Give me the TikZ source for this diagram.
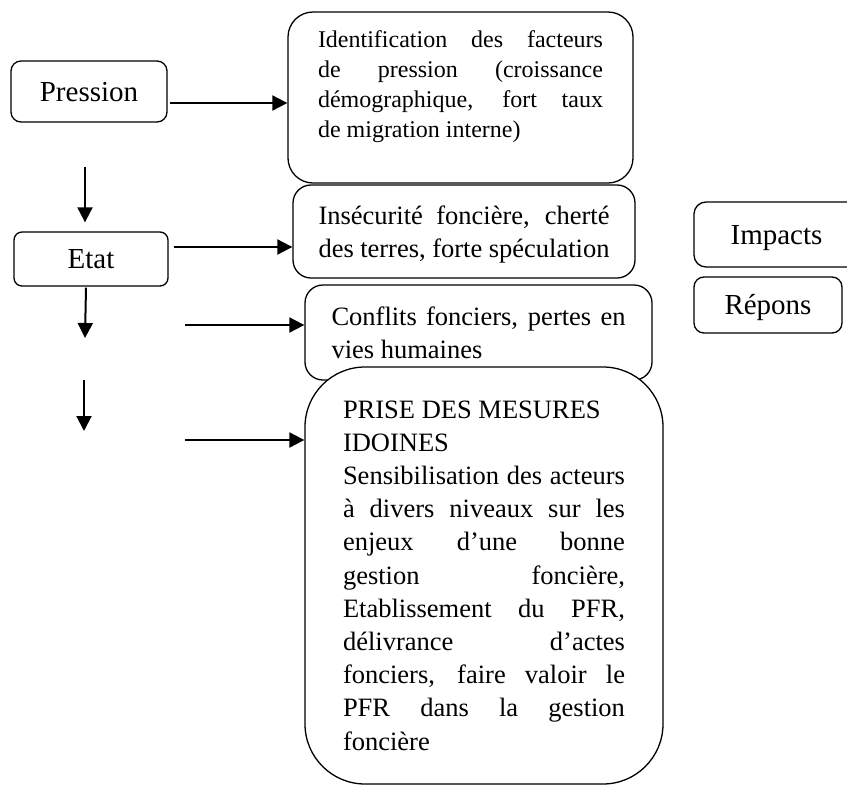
\documentclass[tikz,border=0pt]{standalone}
\usepackage{fontspec}
\setmainfont{Liberation Serif}
\usetikzlibrary{arrows.meta}
\newcommand{\justline}[1]{\makebox[\linewidth][s]{#1}\\}

\begin{document}
\begin{tikzpicture}[x=1pt, y=-1pt,
    box/.style={draw, fill=white, line width=1.3pt, inner sep=0pt},
    lbl/.style={box, font=\fontsize{29}{33}\selectfont, text height=19pt, text depth=0pt},
    arr/.style={-{Triangle[length=15pt,width=15pt]}, line width=2pt}]
    \useasboundingbox (0,0) rectangle (847,785);
    \clip (0,0) rectangle (847,785);

    % DPSIR labels
    \node[lbl, rounded corners=10pt, minimum width=156pt, minimum height=61pt]
          (pression) at (89,91.5) {Pression};
    \node[lbl, rounded corners=8pt, minimum width=154pt, minimum height=54pt]
          (etat) at (91,259) {Etat};
    \node[lbl, rounded corners=12pt, minimum width=165pt, minimum height=65pt]
          (impacts) at (776.5,234.5) {Impacts};
    \node[lbl, rounded corners=10pt, minimum width=148pt, minimum height=56pt]
          (repons) at (768,305) {Répons};

    % Pression
    \node[box, rounded corners=25pt, minimum width=345pt, minimum height=171pt]
          (ident) at (460.5,97.5) {
        \begin{minipage}[c][134pt][t]{285pt}
        \fontsize{24}{30}\selectfont
        \justline{Identification des facteurs}
        \justline{de pression (croissance}
        \justline{démographique, fort taux}
        de migration interne)
        \end{minipage}
    };

    % Etat
    \node[box, rounded corners=18pt, minimum width=342pt, minimum height=93pt]
          (insec) at (464,231.5) {
        \begin{minipage}[c][51pt][t]{291pt}
        \fontsize{26.5}{33}\selectfont
        \justline{Insécurité foncière, cherté}
        des terres, forte spéculation
        \end{minipage}
    };

    % Impacts
    \node[box, rounded corners=18pt, minimum width=347pt, minimum height=95pt]
          (conflits) at (478.5,332.5) {
        \begin{minipage}[c][51pt][t]{294pt}
        \fontsize{26.5}{33}\selectfont
        \justline{Conflits fonciers, pertes en}
        vies humaines
        \end{minipage}
    };

    % Reponses
    \node[box, rounded corners=60pt, minimum width=358pt, minimum height=417pt]
          (prise) at (484,575.5) {
        \begin{minipage}[c][350pt][t]{282pt}
        \fontsize{26.5}{33.2}\selectfont
        PRISE DES MESURES\\
        IDOINES\\
        \justline{Sensibilisation des acteurs}
        \justline{à divers niveaux sur les}
        \justline{enjeux d’une bonne}
        \justline{gestion foncière,}
        \justline{Etablissement du PFR,}
        \justline{délivrance d’actes}
        \justline{fonciers, faire valoir le}
        \justline{PFR dans la gestion}
        foncière
        \end{minipage}
    };

    % Arrows
    \coordinate (etatbas) at (85,338);
    \coordinate (basA) at (84,380);
    \coordinate (basB) at (84,431);
    \coordinate (versconf) at (185,325);
    \coordinate (versprise) at (185,440);

    \draw[arr] ([xshift=2pt,yshift=-11.5pt]pression.east) -- ([yshift=-5.5pt]ident.west);
    \draw[arr] ([xshift=-4pt,yshift=-44pt]pression.south) -- ([xshift=-6pt,yshift=9pt]etat.north);
    \draw[arr] ([xshift=5pt,yshift=12pt]etat.east) -- ([yshift=-15.5pt]insec.west);
    \draw[arr] ([xshift=-5pt,yshift=-1pt]etat.south) -- (etatbas);
    \draw[arr] (basA) -- (basB);
    \draw[arr] (versconf) -- (versconf -| conflits.west);
    \draw[arr] (versprise) -- (versprise -| prise.west);
\end{tikzpicture}
\end{document}
